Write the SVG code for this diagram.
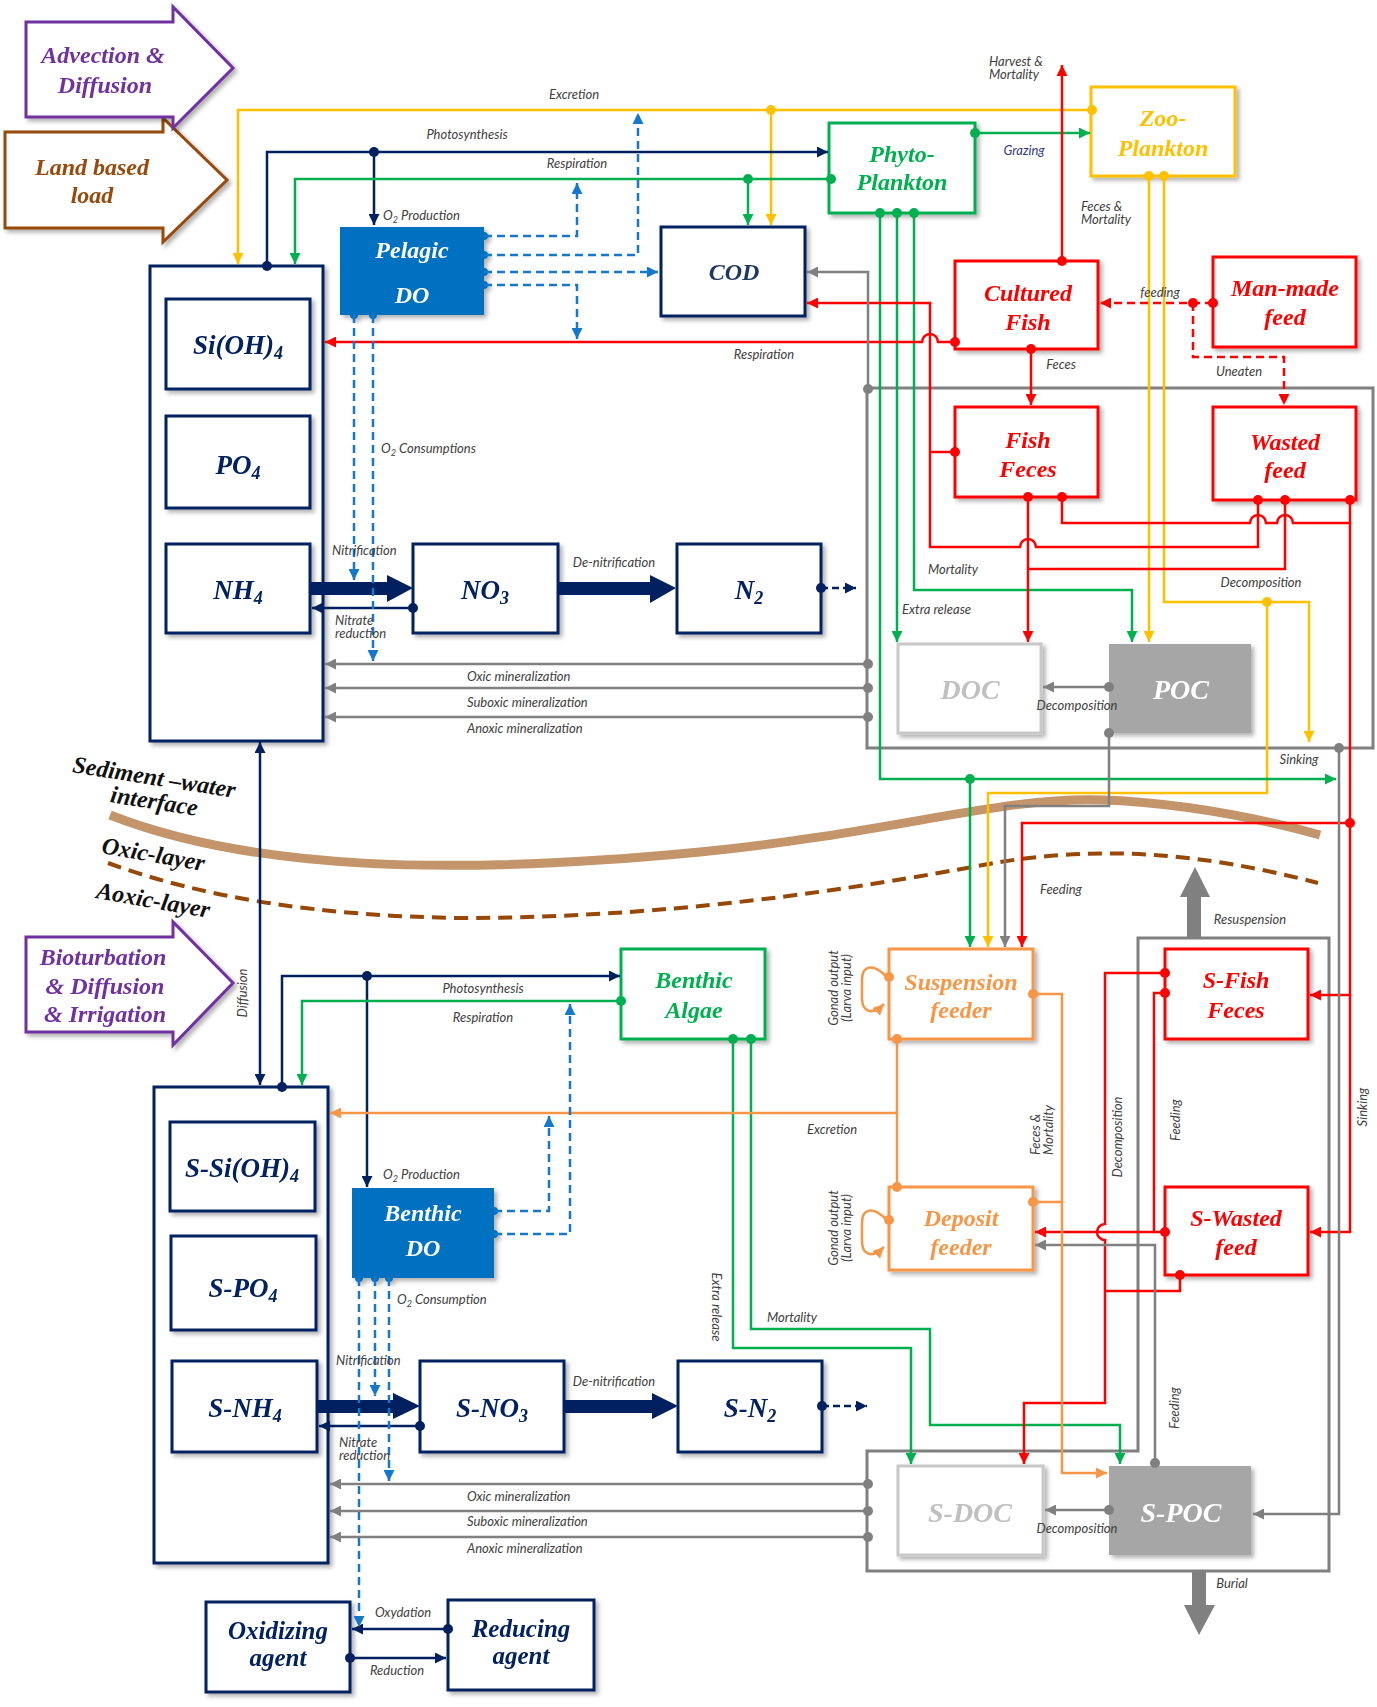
<svg xmlns="http://www.w3.org/2000/svg" width="1377" height="1707" viewBox="0 0 1377 1707">
<defs>
<style>
.bx{stroke-width:3}
.nv{fill:#fff;stroke:#002060}
.bt{font-family:"Liberation Serif",serif;font-weight:bold;font-style:italic;text-anchor:middle}
.lb{font-family:Lato,"Liberation Sans",sans-serif;font-style:italic;font-size:13px;fill:#404040}
.ln{fill:none;stroke-width:2.5}
.r{stroke:#FF0000}.g{stroke:#00B050}.y{stroke:#FFC000}.n{stroke:#002060}.gr{stroke:#808080}.o{stroke:#F79646}.b{stroke:#1479CC;stroke-dasharray:8 5}
.dr{fill:#FF0000}.dg{fill:#00B050}.dy{fill:#FFC000}.dn{fill:#002060}.dgr{fill:#808080}.do{fill:#F79646}.db{fill:#0070C0}
</style>
<filter id="sh" x="-10%" y="-10%" width="130%" height="130%"><feDropShadow dx="3" dy="3" stdDeviation="2" flood-color="#000" flood-opacity="0.3"/></filter>
<marker id="aR" viewBox="0 0 10 10" refX="10" refY="5" markerWidth="11" markerHeight="11" markerUnits="userSpaceOnUse" orient="auto"><path d="M0,0L10,5L0,10z" fill="#FF0000"/></marker>
<marker id="aG" viewBox="0 0 10 10" refX="10" refY="5" markerWidth="11" markerHeight="11" markerUnits="userSpaceOnUse" orient="auto"><path d="M0,0L10,5L0,10z" fill="#00B050"/></marker>
<marker id="aY" viewBox="0 0 10 10" refX="10" refY="5" markerWidth="11" markerHeight="11" markerUnits="userSpaceOnUse" orient="auto"><path d="M0,0L10,5L0,10z" fill="#FFC000"/></marker>
<marker id="aN" viewBox="0 0 10 10" refX="10" refY="5" markerWidth="11" markerHeight="11" markerUnits="userSpaceOnUse" orient="auto-start-reverse"><path d="M0,0L10,5L0,10z" fill="#002060"/></marker>
<marker id="aGr" viewBox="0 0 10 10" refX="10" refY="5" markerWidth="11" markerHeight="11" markerUnits="userSpaceOnUse" orient="auto"><path d="M0,0L10,5L0,10z" fill="#808080"/></marker>
<marker id="aO" viewBox="0 0 10 10" refX="10" refY="5" markerWidth="11" markerHeight="11" markerUnits="userSpaceOnUse" orient="auto"><path d="M0,0L10,5L0,10z" fill="#F79646"/></marker>
<marker id="aB" viewBox="0 0 10 10" refX="10" refY="5" markerWidth="11" markerHeight="11" markerUnits="userSpaceOnUse" orient="auto"><path d="M0,0L10,5L0,10z" fill="#1479CC"/></marker>
</defs>
<rect width="1377" height="1707" fill="#fff"/>

<!-- layer curves and labels -->
<g id="layers">
<path d="M110,815 C250,870 450,876 700,852 C900,832 1000,796 1105,800 C1200,804 1280,824 1320,835" fill="none" stroke="#C4956A" stroke-width="9"/>
<path d="M108,863 Q250,915 460,918 C700,918 900,880 1000,862 C1100,846 1200,852 1318,883" fill="none" stroke="#974806" stroke-width="4" stroke-dasharray="14 8"/>
<text class="bt" font-size="24" fill="#111" transform="translate(153,785) rotate(9)">Sediment –water</text>
<text class="bt" font-size="24" fill="#111" transform="translate(153,809) rotate(9)">interface</text>
<text class="bt" font-size="24" fill="#111" transform="translate(152,862) rotate(10)">Oxic-layer</text>
<text class="bt" font-size="24" fill="#111" transform="translate(152,908) rotate(10)">Aoxic-layer</text>
</g>

<!-- block arrows -->
<g id="land-based-load" filter="url(#sh)">
<polygon points="5,132 163,132 163,118 227,180 163,242 163,228 5,228" fill="#fff" stroke="#984807" stroke-width="3"/>
<text class="bt" font-size="24" fill="#984807" x="92" y="175">Land based</text>
<text class="bt" font-size="24" fill="#984807" x="92" y="203">load</text>
</g>
<g id="advection-diffusion" filter="url(#sh)">
<polygon points="26,22 173,22 173,7 233,68 173,128 173,117 26,117" fill="#fff" stroke="#7030A0" stroke-width="3"/>
<text class="bt" font-size="24" fill="#7030A0" x="103" y="63">Advection &amp;</text>
<text class="bt" font-size="24" fill="#7030A0" x="105" y="93">Diffusion</text>
</g>
<g id="bioturbation" filter="url(#sh)">
<polygon points="26,937 173,937 173,922 233,983 173,1045 173,1032 26,1032" fill="#fff" stroke="#7030A0" stroke-width="3"/>
<text class="bt" font-size="24" fill="#7030A0" x="103" y="965">Bioturbation</text>
<text class="bt" font-size="24" fill="#7030A0" x="105" y="994">&amp; Diffusion</text>
<text class="bt" font-size="24" fill="#7030A0" x="105" y="1022">&amp; Irrigation</text>
</g>

<!-- containers -->
<g id="water-detritus-container"><rect x="867" y="388" width="506" height="360" fill="none" stroke="#808080" stroke-width="3"/></g>
<g id="sediment-detritus-container"><polygon points="1138,938 1329,938 1329,1571 867,1571 867,1451 1138,1451" fill="none" stroke="#808080" stroke-width="3"/></g>

<!-- big gray arrows -->
<g id="resuspension"><polygon points="1187,938 1187,897 1180,897 1195,867 1210,897 1201,897 1201,938" fill="#808080"/></g>
<g id="burial"><polygon points="1192,1571 1192,1605 1184,1605 1199,1635 1215,1605 1206,1605 1206,1571" fill="#808080"/></g>

<!-- nodes -->
<g id="water-nutrients" filter="url(#sh)"><rect class="bx nv" x="150" y="266" width="173" height="475"/></g>
<g id="SiOH4" filter="url(#sh)"><rect class="bx nv" x="166" y="299" width="144" height="90"/><text class="bt" font-size="27" fill="#002060" x="238" y="354">Si(OH)<tspan font-size="18" dy="5">4</tspan></text></g>
<g id="PO4" filter="url(#sh)"><rect class="bx nv" x="166" y="416" width="144" height="92"/><text class="bt" font-size="27" fill="#002060" x="238" y="474">PO<tspan font-size="18" dy="5">4</tspan></text></g>
<g id="NH4" filter="url(#sh)"><rect class="bx nv" x="166" y="544" width="144" height="89"/><text class="bt" font-size="27" fill="#002060" x="238" y="599">NH<tspan font-size="18" dy="5">4</tspan></text></g>
<g id="NO3" filter="url(#sh)"><rect class="bx nv" x="413" y="544" width="145" height="89"/><text class="bt" font-size="27" fill="#002060" x="485" y="599">NO<tspan font-size="18" dy="5">3</tspan></text></g>
<g id="N2" filter="url(#sh)"><rect class="bx nv" x="677" y="544" width="144" height="89"/><text class="bt" font-size="27" fill="#002060" x="749" y="599">N<tspan font-size="18" dy="5">2</tspan></text></g>
<g id="pelagic-DO" filter="url(#sh)"><rect x="340" y="227" width="144" height="88" fill="#0070C0"/>
<circle cx="484" cy="236" r="4" class="db"/><circle cx="484" cy="255" r="4" class="db"/><circle cx="484" cy="272" r="4" class="db"/><circle cx="484" cy="285" r="4" class="db"/><circle cx="354" cy="315" r="4" class="db"/><circle cx="373" cy="315" r="4" class="db"/>
<text class="bt" font-size="24" fill="#fff" x="412" y="258">Pelagic</text><text class="bt" font-size="24" fill="#fff" x="412" y="303">DO</text></g>
<g id="COD" filter="url(#sh)"><rect class="bx nv" x="661" y="227" width="144" height="89"/><text class="bt" font-size="24" fill="#1F3864" x="734" y="280">COD</text></g>
<g id="phytoplankton" filter="url(#sh)"><rect class="bx" x="829" y="123" width="146" height="90" fill="#fff" stroke="#00B050"/><text class="bt" font-size="24" fill="#00B050" x="902" y="162">Phyto-</text><text class="bt" font-size="24" fill="#00B050" x="902" y="190">Plankton</text></g>
<g id="zooplankton" filter="url(#sh)"><rect class="bx" x="1091" y="87" width="144" height="89" fill="#fff" stroke="#FFC000"/><text class="bt" font-size="24" fill="#FFC000" x="1163" y="126">Zoo-</text><text class="bt" font-size="24" fill="#FFC000" x="1163" y="156">Plankton</text></g>
<g id="cultured-fish" filter="url(#sh)"><rect class="bx" x="955" y="261" width="143" height="88" fill="#fff" stroke="#FF0000"/><text class="bt" font-size="24" fill="#FF0000" x="1028" y="301">Cultured</text><text class="bt" font-size="24" fill="#FF0000" x="1028" y="330">Fish</text></g>
<g id="man-made-feed" filter="url(#sh)"><rect class="bx" x="1213" y="257" width="143" height="90" fill="#fff" stroke="#FF0000"/><text class="bt" font-size="24" fill="#FF0000" x="1285" y="296">Man-made</text><text class="bt" font-size="24" fill="#FF0000" x="1285" y="325">feed</text></g>
<g id="fish-feces" filter="url(#sh)"><rect class="bx" x="955" y="407" width="143" height="90" fill="#fff" stroke="#FF0000"/><text class="bt" font-size="24" fill="#FF0000" x="1028" y="448">Fish</text><text class="bt" font-size="24" fill="#FF0000" x="1028" y="477">Feces</text></g>
<g id="wasted-feed" filter="url(#sh)"><rect class="bx" x="1213" y="407" width="143" height="93" fill="#fff" stroke="#FF0000"/><text class="bt" font-size="24" fill="#FF0000" x="1285" y="450">Wasted</text><text class="bt" font-size="24" fill="#FF0000" x="1285" y="478">feed</text></g>
<g id="DOC" filter="url(#sh)"><rect class="bx" x="898" y="644" width="143" height="89" fill="#fff" stroke="#C8C8C8"/><text class="bt" font-size="28" fill="#C0C0C0" x="970" y="699">DOC</text></g>
<g id="POC" filter="url(#sh)"><rect x="1109" y="644" width="142" height="89" fill="#A6A6A6"/><text class="bt" font-size="28" fill="#fff" x="1181" y="699">POC</text></g>

<g id="sediment-nutrients" filter="url(#sh)"><rect class="bx nv" x="154" y="1087" width="174" height="476"/></g>
<g id="S-SiOH4" filter="url(#sh)"><rect class="bx nv" x="170" y="1122" width="145" height="89"/><text class="bt" font-size="27" fill="#002060" x="242" y="1177">S-Si(OH)<tspan font-size="18" dy="5">4</tspan></text></g>
<g id="S-PO4" filter="url(#sh)"><rect class="bx nv" x="171" y="1236" width="145" height="94"/><text class="bt" font-size="27" fill="#002060" x="243" y="1297">S-PO<tspan font-size="18" dy="5">4</tspan></text></g>
<g id="S-NH4" filter="url(#sh)"><rect class="bx nv" x="172" y="1361" width="145" height="91"/><text class="bt" font-size="27" fill="#002060" x="245" y="1417">S-NH<tspan font-size="18" dy="5">4</tspan></text></g>
<g id="S-NO3" filter="url(#sh)"><rect class="bx nv" x="420" y="1361" width="144" height="91"/><text class="bt" font-size="27" fill="#002060" x="492" y="1417">S-NO<tspan font-size="18" dy="5">3</tspan></text></g>
<g id="S-N2" filter="url(#sh)"><rect class="bx nv" x="678" y="1361" width="144" height="91"/><text class="bt" font-size="27" fill="#002060" x="750" y="1417">S-N<tspan font-size="18" dy="5">2</tspan></text></g>
<g id="benthic-DO" filter="url(#sh)"><rect x="352" y="1188" width="142" height="90" fill="#0070C0"/>
<circle cx="494" cy="1211" r="4" class="db"/><circle cx="494" cy="1234" r="4" class="db"/><circle cx="359" cy="1278" r="4" class="db"/><circle cx="375" cy="1278" r="4" class="db"/><circle cx="389" cy="1278" r="4" class="db"/>
<text class="bt" font-size="24" fill="#fff" x="423" y="1221">Benthic</text><text class="bt" font-size="24" fill="#fff" x="423" y="1256">DO</text></g>
<g id="benthic-algae" filter="url(#sh)"><rect class="bx" x="621" y="949" width="144" height="90" fill="#fff" stroke="#00B050"/><text class="bt" font-size="24" fill="#00B050" x="694" y="988">Benthic</text><text class="bt" font-size="24" fill="#00B050" x="694" y="1018">Algae</text></g>
<g id="suspension-feeder" filter="url(#sh)"><rect class="bx" x="889" y="949" width="144" height="90" fill="#fff" stroke="#F79646"/><text class="bt" font-size="24" fill="#F79646" x="961" y="990">Suspension</text><text class="bt" font-size="24" fill="#F79646" x="961" y="1018">feeder</text></g>
<g id="deposit-feeder" filter="url(#sh)"><rect class="bx" x="889" y="1187" width="144" height="83" fill="#fff" stroke="#F79646"/><text class="bt" font-size="24" fill="#F79646" x="961" y="1226">Deposit</text><text class="bt" font-size="24" fill="#F79646" x="961" y="1255">feeder</text></g>
<g id="S-fish-feces" filter="url(#sh)"><rect class="bx" x="1165" y="949" width="143" height="90" fill="#fff" stroke="#FF0000"/><text class="bt" font-size="24" fill="#FF0000" x="1236" y="988">S-Fish</text><text class="bt" font-size="24" fill="#FF0000" x="1236" y="1018">Feces</text></g>
<g id="S-wasted-feed" filter="url(#sh)"><rect class="bx" x="1165" y="1187" width="143" height="88" fill="#fff" stroke="#FF0000"/><text class="bt" font-size="24" fill="#FF0000" x="1236" y="1226">S-Wasted</text><text class="bt" font-size="24" fill="#FF0000" x="1236" y="1255">feed</text></g>
<g id="S-DOC" filter="url(#sh)"><rect class="bx" x="898" y="1466" width="145" height="89" fill="#fff" stroke="#C8C8C8"/><text class="bt" font-size="28" fill="#C0C0C0" x="970" y="1522">S-DOC</text></g>
<g id="S-POC" filter="url(#sh)"><rect x="1109" y="1466" width="142" height="89" fill="#A6A6A6"/><text class="bt" font-size="28" fill="#fff" x="1181" y="1522">S-POC</text></g>
<g id="oxidizing-agent" filter="url(#sh)"><rect class="bx nv" x="206" y="1602" width="144" height="90"/><text class="bt" font-size="25" fill="#002060" x="278" y="1639">Oxidizing</text><text class="bt" font-size="25" fill="#002060" x="278" y="1666">agent</text></g>
<g id="reducing-agent" filter="url(#sh)"><rect class="bx nv" x="448" y="1600" width="146" height="90"/><text class="bt" font-size="25" fill="#002060" x="521" y="1637">Reducing</text><text class="bt" font-size="25" fill="#002060" x="521" y="1664">agent</text></g>

<!-- connectors -->
<g id="connectors">
<!-- thick nitrogen arrows -->
<polygon points="310,582 387,582 387,575 413,588 387,602 387,595 310,595" class="dn"/>
<polygon points="558,582 650,582 650,575 676,588 650,603 650,595 558,595" class="dn"/>
<polygon points="317,1400 393,1400 393,1393 420,1406 393,1419 393,1413 317,1413" class="dn"/>
<polygon points="564,1400 652,1400 652,1393 678,1406 652,1419 652,1413 564,1413" class="dn"/>

<!-- yellow -->
<path class="ln y" d="M1092,110 H238 V264" marker-end="url(#aY)"/>
<path class="ln y" d="M771,110 V225" marker-end="url(#aY)"/>
<path class="ln y" d="M1149,176 V642" marker-end="url(#aY)"/>
<path class="ln y" d="M1164,176 V602 H1309 V742" marker-end="url(#aY)"/>
<path class="ln y" d="M1267,602 V793 H988 V947" marker-end="url(#aY)"/>
<circle cx="1092" cy="110" r="5" class="dy"/><circle cx="771" cy="110" r="5" class="dy"/><circle cx="1149" cy="176" r="5" class="dy"/><circle cx="1164" cy="176" r="5" class="dy"/><circle cx="1267" cy="602" r="5" class="dy"/>

<!-- navy -->
<path class="ln n" d="M267,266 V152 H828" marker-end="url(#aN)"/>
<path class="ln n" d="M374,152 V225" marker-end="url(#aN)"/>
<path class="ln n" d="M260,742 V1085" marker-start="url(#aN)" marker-end="url(#aN)"/>
<path class="ln n" d="M282,1087 V976 H620" marker-end="url(#aN)"/>
<path class="ln n" d="M367,976 V1187" marker-end="url(#aN)"/>
<path class="ln n" d="M413,608 H312" marker-end="url(#aN)"/>
<path class="ln n" d="M420,1426 H319" marker-end="url(#aN)"/>
<path class="ln n" d="M821,588 H856" stroke-dasharray="7 4" marker-end="url(#aN)"/>
<path class="ln n" d="M822,1406 H867" stroke-dasharray="7 4" marker-end="url(#aN)"/>
<path class="ln n" d="M448,1629 H352" marker-end="url(#aN)"/>
<path class="ln n" d="M350,1658 H446" marker-end="url(#aN)"/>
<circle cx="267" cy="266" r="5" class="dn"/><circle cx="374" cy="152" r="5" class="dn"/><circle cx="282" cy="1087" r="5" class="dn"/><circle cx="367" cy="976" r="5" class="dn"/><circle cx="413" cy="608" r="5" class="dn"/><circle cx="420" cy="1426" r="5" class="dn"/><circle cx="821" cy="588" r="5" class="dn"/><circle cx="822" cy="1406" r="5" class="dn"/><circle cx="448" cy="1629" r="5" class="dn"/><circle cx="350" cy="1658" r="5" class="dn"/>

<!-- green -->
<path class="ln g" d="M831,179 H295 V264" marker-end="url(#aG)"/>
<path class="ln g" d="M748,179 V225" marker-end="url(#aG)"/>
<path class="ln g" d="M975,133 H1090" marker-end="url(#aG)"/>
<path class="ln g" d="M880,213 V779 H1336" marker-end="url(#aG)"/>
<path class="ln g" d="M970,779 V947" marker-end="url(#aG)"/>
<path class="ln g" d="M897,213 V642" marker-end="url(#aG)"/>
<path class="ln g" d="M914,213 V590 H1132 V642" marker-end="url(#aG)"/>
<path class="ln g" d="M621,1001 H302 V1085" marker-end="url(#aG)"/>
<path class="ln g" d="M733,1039 V1348 H911 V1464" marker-end="url(#aG)"/>
<path class="ln g" d="M751,1039 V1329 H930 V1425 H1120 V1464" marker-end="url(#aG)"/>
<circle cx="831" cy="179" r="5" class="dg"/><circle cx="748" cy="179" r="5" class="dg"/><circle cx="975" cy="133" r="5" class="dg"/><circle cx="880" cy="213" r="5" class="dg"/><circle cx="897" cy="213" r="5" class="dg"/><circle cx="914" cy="213" r="5" class="dg"/><circle cx="970" cy="779" r="5" class="dg"/><circle cx="621" cy="1001" r="5" class="dg"/><circle cx="733" cy="1039" r="5" class="dg"/><circle cx="751" cy="1039" r="5" class="dg"/>

<!-- red -->
<path class="ln r" d="M1062,261 V65" marker-end="url(#aR)"/>
<path class="ln r" d="M955,342 H938 a8,8 0 0 0 -16,0 H325" marker-end="url(#aR)"/>
<path class="ln r" d="M1258,500 V547 H1036 a8,8 0 0 0 -16,0 H930 V303 H807" marker-end="url(#aR)"/>
<path class="ln r" d="M955,452 H930"/>
<path class="ln r" d="M1028,497 V642" marker-end="url(#aR)"/>
<path class="ln r" d="M1062,497 V523 H1250 a8,8 0 0 1 16,0 H1277 a8,8 0 0 1 16,0 H1350"/>
<path class="ln r" d="M1285,500 V569 H1028"/>
<path class="ln r" d="M1350,500 V1232 H1310" marker-end="url(#aR)"/>
<path class="ln r" d="M1350,995 H1310" marker-end="url(#aR)"/>
<path class="ln r" d="M1350,823 H1022 V947" marker-end="url(#aR)"/>
<path class="ln r" d="M1031,349 V405" marker-end="url(#aR)"/>
<path class="ln r" d="M1213,303 H1100" stroke-dasharray="8 5" marker-end="url(#aR)"/>
<path class="ln r" d="M1193,303 V357 H1284 V405" stroke-dasharray="8 5" marker-end="url(#aR)"/>
<path class="ln r" d="M1165,973 H1105 V1224 a8,8 0 0 0 0,16 V1403 H1024 V1464" marker-end="url(#aR)"/>
<path class="ln r" d="M1165,993 H1154 V1232"/>
<path class="ln r" d="M1165,1232 H1035" marker-end="url(#aR)"/>
<path class="ln r" d="M1180,1275 V1291 H1105"/>
<circle cx="1062" cy="261" r="5" class="dr"/><circle cx="955" cy="342" r="5" class="dr"/><circle cx="1258" cy="500" r="5" class="dr"/><circle cx="1285" cy="500" r="5" class="dr"/><circle cx="1350" cy="500" r="5" class="dr"/><circle cx="955" cy="452" r="5" class="dr"/><circle cx="1028" cy="497" r="5" class="dr"/><circle cx="1062" cy="497" r="5" class="dr"/><circle cx="1350" cy="823" r="5" class="dr"/><circle cx="1031" cy="349" r="5" class="dr"/><circle cx="1213" cy="303" r="5" class="dr"/><circle cx="1193" cy="303" r="5" class="dr"/><circle cx="1165" cy="973" r="5" class="dr"/><circle cx="1165" cy="993" r="5" class="dr"/><circle cx="1165" cy="1232" r="5" class="dr"/><circle cx="1180" cy="1275" r="5" class="dr"/>

<!-- gray -->
<path class="ln gr" d="M868,389 V272 H807" marker-end="url(#aGr)"/>
<path class="ln gr" d="M868,664 H325" marker-end="url(#aGr)"/>
<path class="ln gr" d="M868,688 H325" marker-end="url(#aGr)"/>
<path class="ln gr" d="M868,717 H325" marker-end="url(#aGr)"/>
<path class="ln gr" d="M1109,687 H1043" marker-end="url(#aGr)"/>
<path class="ln gr" d="M1109,733 V806 H1005 V947" marker-end="url(#aGr)"/>
<path class="ln gr" d="M1339,748 V1514 H1253" marker-end="url(#aGr)"/>
<path class="ln gr" d="M868,1484 H330" marker-end="url(#aGr)"/>
<path class="ln gr" d="M868,1511 H330" marker-end="url(#aGr)"/>
<path class="ln gr" d="M868,1537 H330" marker-end="url(#aGr)"/>
<path class="ln gr" d="M1109,1510 H1045" marker-end="url(#aGr)"/>
<path class="ln gr" d="M1155,1463 V1245 H1035" marker-end="url(#aGr)"/>
<circle cx="868" cy="389" r="5" class="dgr"/><circle cx="868" cy="664" r="5" class="dgr"/><circle cx="868" cy="688" r="5" class="dgr"/><circle cx="868" cy="717" r="5" class="dgr"/><circle cx="1109" cy="687" r="5" class="dgr"/><circle cx="1109" cy="733" r="5" class="dgr"/><circle cx="1339" cy="748" r="5" class="dgr"/><circle cx="868" cy="1484" r="5" class="dgr"/><circle cx="868" cy="1511" r="5" class="dgr"/><circle cx="868" cy="1537" r="5" class="dgr"/><circle cx="1109" cy="1510" r="5" class="dgr"/><circle cx="1155" cy="1463" r="5" class="dgr"/>

<!-- orange -->
<path class="ln o" d="M897,1039 V1187"/>
<path class="ln o" d="M897,1113 H330" marker-end="url(#aO)"/>
<path class="ln o" d="M1033,994 H1062 V1473 H1107" marker-end="url(#aO)"/>
<path class="ln o" d="M1033,1202 H1062"/>
<path class="ln o" d="M887,977 C872,962 862,966 862,980 V998 C862,1012 872,1016 884,1004" marker-end="url(#aO)"/>
<path class="ln o" d="M887,1220 C872,1205 862,1209 862,1223 V1241 C862,1255 872,1259 884,1247" marker-end="url(#aO)"/>
<circle cx="897" cy="1039" r="5" class="do"/><circle cx="897" cy="1187" r="5" class="do"/><circle cx="1033" cy="994" r="5" class="do"/><circle cx="1033" cy="1202" r="5" class="do"/><circle cx="889" cy="977" r="5" class="do"/><circle cx="889" cy="1220" r="5" class="do"/>

<!-- blue dashed oxygen -->
<path class="ln b" d="M484,236 H577 V183" marker-end="url(#aB)"/>
<path class="ln b" d="M484,255 H638 V113" marker-end="url(#aB)"/>
<path class="ln b" d="M484,272 H658" marker-end="url(#aB)"/>
<path class="ln b" d="M484,285 H577 V339" marker-end="url(#aB)"/>
<path class="ln b" d="M354,315 V580" marker-end="url(#aB)"/>
<path class="ln b" d="M373,315 V661" marker-end="url(#aB)"/>
<path class="ln b" d="M494,1211 H549 V1116" marker-end="url(#aB)"/>
<path class="ln b" d="M494,1234 H570 V1004" marker-end="url(#aB)"/>
<path class="ln b" d="M375,1278 V1396" marker-end="url(#aB)"/>
<path class="ln b" d="M389,1278 V1481" marker-end="url(#aB)"/>
<path class="ln b" d="M359,1278 V1627" marker-end="url(#aB)"/>
</g>

<!-- connector labels -->
<g id="labels">
<text class="lb" x="574" y="99" text-anchor="middle">Excretion</text>
<text class="lb" x="467" y="139" text-anchor="middle">Photosynthesis</text>
<text class="lb" x="577" y="168" text-anchor="middle">Respiration</text>
<text class="lb" x="383" y="220">O<tspan font-size="9" dy="3">2</tspan><tspan dy="-3"> Production</tspan></text>
<text class="lb" x="1024" y="155" text-anchor="middle" style="fill:#2F3A80">Grazing</text>
<text class="lb" x="989" y="66" font-size="11">Harvest &amp;</text>
<text class="lb" x="989" y="79" font-size="11">Mortality</text>
<text class="lb" x="1081" y="211" font-size="11">Feces &amp;</text>
<text class="lb" x="1081" y="224" font-size="11">Mortality</text>
<text class="lb" x="1160" y="297" text-anchor="middle">feeding</text>
<text class="lb" x="764" y="359" text-anchor="middle">Respiration</text>
<text class="lb" x="1061" y="369" text-anchor="middle">Feces</text>
<text class="lb" x="1239" y="376" text-anchor="middle" font-size="12">Uneaten</text>
<text class="lb" x="381" y="453">O<tspan font-size="9" dy="3">2</tspan><tspan dy="-3"> Consumptions</tspan></text>
<text class="lb" x="332" y="555">Nitrification</text>
<text class="lb" x="614" y="567" text-anchor="middle">De-nitrification</text>
<text class="lb" x="335" y="625" font-size="11">Nitrate</text>
<text class="lb" x="335" y="638" font-size="11">reduction</text>
<text class="lb" x="928" y="574">Mortality</text>
<text class="lb" x="1261" y="587" text-anchor="middle">Decomposition</text>
<text class="lb" x="902" y="614">Extra release</text>
<text class="lb" x="467" y="681" font-size="12">Oxic mineralization</text>
<text class="lb" x="467" y="707" font-size="12">Suboxic mineralization</text>
<text class="lb" x="467" y="733" font-size="12">Anoxic mineralization</text>
<text class="lb" x="1077" y="710" text-anchor="middle">Decomposition</text>
<text class="lb" x="1299" y="764" text-anchor="middle">Sinking</text>
<text class="lb" x="1061" y="894" text-anchor="middle">Feeding</text>
<text class="lb" x="1250" y="924" text-anchor="middle">Resuspension</text>
<text class="lb" text-anchor="middle" transform="translate(247,993) rotate(-90)">Diffusion</text>
<text class="lb" x="483" y="993" text-anchor="middle">Photosynthesis</text>
<text class="lb" x="483" y="1022" text-anchor="middle">Respiration</text>
<text class="lb" text-anchor="middle" font-size="11" transform="translate(838,988) rotate(-90)">Gonad output</text>
<text class="lb" text-anchor="middle" font-size="11" transform="translate(851,988) rotate(-90)">(Larva input)</text>
<text class="lb" text-anchor="middle" font-size="11" transform="translate(838,1228) rotate(-90)">Gonad output</text>
<text class="lb" text-anchor="middle" font-size="11" transform="translate(851,1228) rotate(-90)">(Larva input)</text>
<text class="lb" x="832" y="1134" text-anchor="middle">Excretion</text>
<text class="lb" font-size="11" transform="translate(1040,1155) rotate(-90)">Feces &amp;</text>
<text class="lb" font-size="11" transform="translate(1053,1155) rotate(-90)">Mortality</text>
<text class="lb" text-anchor="middle" transform="translate(1122,1137) rotate(-90)">Decomposition</text>
<text class="lb" text-anchor="middle" transform="translate(1180,1120) rotate(-90)">Feeding</text>
<text class="lb" text-anchor="middle" transform="translate(1367,1107) rotate(-90)">Sinking</text>
<text class="lb" x="383" y="1179">O<tspan font-size="9" dy="3">2</tspan><tspan dy="-3"> Production</tspan></text>
<text class="lb" x="397" y="1304">O<tspan font-size="9" dy="3">2</tspan><tspan dy="-3"> Consumption</tspan></text>
<text class="lb" text-anchor="middle" transform="translate(712,1307) rotate(90)">Extra release</text>
<text class="lb" x="792" y="1322" text-anchor="middle">Mortality</text>
<text class="lb" x="336" y="1365">Nitrification</text>
<text class="lb" x="614" y="1386" text-anchor="middle">De-nitrification</text>
<text class="lb" x="339" y="1447" font-size="11">Nitrate</text>
<text class="lb" x="339" y="1460" font-size="11">reduction</text>
<text class="lb" text-anchor="middle" transform="translate(1179,1408) rotate(-90)">Feeding</text>
<text class="lb" x="467" y="1501" font-size="12">Oxic mineralization</text>
<text class="lb" x="467" y="1526" font-size="12">Suboxic mineralization</text>
<text class="lb" x="467" y="1553" font-size="12">Anoxic mineralization</text>
<text class="lb" x="1077" y="1533" text-anchor="middle">Decomposition</text>
<text class="lb" x="1232" y="1588" text-anchor="middle">Burial</text>
<text class="lb" x="403" y="1617" text-anchor="middle">Oxydation</text>
<text class="lb" x="397" y="1675" text-anchor="middle">Reduction</text>
</g>
</svg>
